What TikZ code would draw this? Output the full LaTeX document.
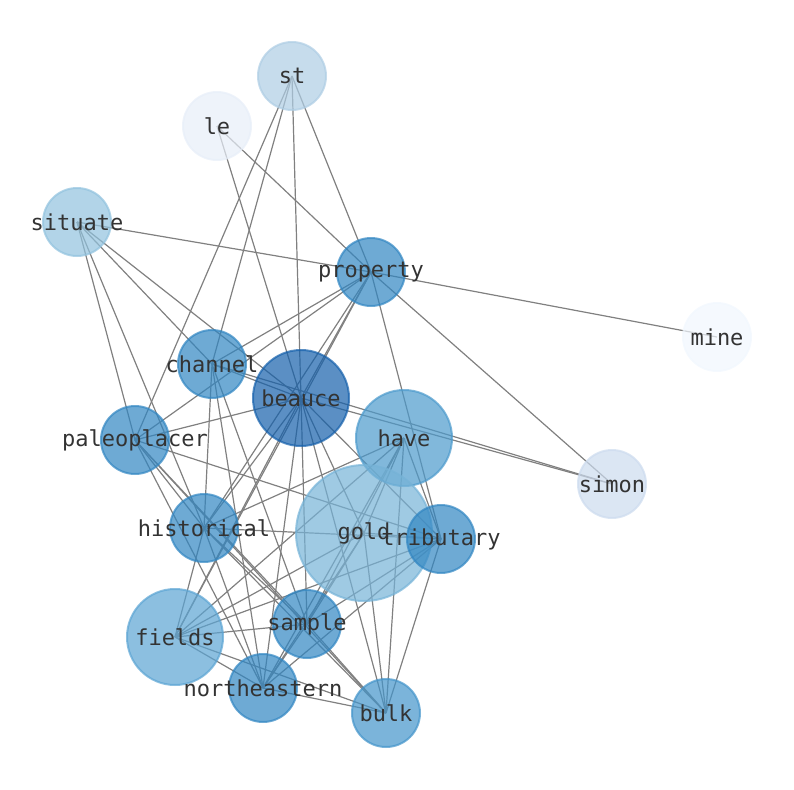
\documentclass[tikz,border=0pt]{standalone}
\usepackage{fontspec}
\newfontfamily\monofont{DejaVu Sans Mono}
\definecolor{edgegray}{RGB}{128,128,128}
\definecolor{labelgray}{RGB}{51,51,51}
\definecolor{cSt}{RGB}{174,205,228}
\definecolor{cLe}{RGB}{231,238,248}
\definecolor{cSituate}{RGB}{145,194,222}
\definecolor{cMid}{RGB}{49,134,194}
\definecolor{cMine}{RGB}{241,247,254}
\definecolor{cBeauce}{RGB}{21,96,171}
\definecolor{cHave}{RGB}{76,154,204}
\definecolor{cSimon}{RGB}{204,219,238}
\definecolor{cGold}{RGB}{118,179,215}
\definecolor{cFields}{RGB}{91,164,211}
\definecolor{cBulk}{RGB}{67,148,202}
\tikzset{
  vtx/.style={circle, fill=#1, draw=#1, fill opacity=0.7, draw opacity=0.7, line width=1.5pt, inner sep=0pt},
  small/.style={minimum size=51pt},
  mid/.style={minimum size=72pt},
  big/.style={minimum size=102pt},
  lbl/.style={text=labelgray, font=\monofont\fontsize{16.5}{18}\selectfont, inner sep=0pt},
  edge/.style={draw=edgegray, line width=0.9pt}
}
\begin{document}
\begin{tikzpicture}[x=0.75pt,y=-0.75pt]
\useasboundingbox (0,0) rectangle (794,790);
% coordinates
\coordinate (st) at (292,76);
\coordinate (le) at (217,126);
\coordinate (situate) at (77,222);
\coordinate (property) at (371,272);
\coordinate (mine) at (717,337);
\coordinate (channel) at (212,364);
\coordinate (beauce) at (301,398);
\coordinate (paleoplacer) at (135,440);
\coordinate (have) at (404,438);
\coordinate (simon) at (612,484);
\coordinate (historical) at (204,528);
\coordinate (gold) at (364,533);
\coordinate (tributary) at (441,539);
\coordinate (fields) at (175,637);
\coordinate (sample) at (307,624);
\coordinate (northeastern) at (263,688);
\coordinate (bulk) at (386,713);
% edges
\foreach \a/\b in {
 st/channel, st/paleoplacer, st/beauce, st/property,
 le/property, le/beauce,
 situate/property, situate/paleoplacer, situate/historical, situate/channel, situate/beauce,
 property/mine, property/simon, property/tributary, property/channel, property/paleoplacer, property/beauce, property/historical, property/fields,
 channel/beauce, channel/simon, channel/historical, channel/northeastern, channel/sample,
 beauce/simon, beauce/paleoplacer, beauce/historical, beauce/fields, beauce/sample, beauce/northeastern, beauce/bulk, beauce/gold, beauce/tributary,
 paleoplacer/historical, paleoplacer/sample, paleoplacer/bulk, paleoplacer/northeastern, paleoplacer/tributary,
 have/fields, have/gold, have/sample, have/northeastern, have/bulk, have/tributary, have/historical,
 gold/fields, gold/sample, gold/northeastern, gold/bulk,
 tributary/historical, tributary/fields, tributary/sample, tributary/northeastern, tributary/bulk, tributary/gold,
 historical/sample, historical/bulk, historical/northeastern, historical/fields,
 fields/sample, fields/northeastern, fields/bulk,
 sample/northeastern, sample/bulk,
 northeastern/bulk}
 {\draw[edge] (\a) -- (\b);}
% nodes
\node[vtx=cSt, small] (n-st) at (st) {};
\node[vtx=cLe, small] (n-le) at (le) {};
\node[vtx=cSituate, small] (n-situate) at (situate) {};
\node[vtx=cMid, small] (n-property) at (property) {};
\node[vtx=cMine, small] (n-mine) at (mine) {};
\node[vtx=cMid, small] (n-channel) at (channel) {};
\node[vtx=cBeauce, mid] (n-beauce) at (beauce) {};
\node[vtx=cMid, small] (n-paleoplacer) at (paleoplacer) {};
\node[vtx=cHave, mid] (n-have) at (have) {};
\node[vtx=cSimon, small] (n-simon) at (simon) {};
\node[vtx=cMid, small] (n-historical) at (historical) {};
\node[vtx=cGold, big] (n-gold) at (gold) {};
\node[vtx=cMid, small] (n-tributary) at (tributary) {};
\node[vtx=cFields, mid] (n-fields) at (fields) {};
\node[vtx=cMid, small] (n-sample) at (sample) {};
\node[vtx=cMid, small] (n-northeastern) at (northeastern) {};
\node[vtx=cBulk, small] (n-bulk) at (bulk) {};
% labels
\foreach \n in {st,le,situate,property,mine,channel,beauce,paleoplacer,have,simon,historical,gold,tributary,fields,sample,northeastern,bulk}
 {\node[lbl] (t-\n) at (\n) {\n};}
\end{tikzpicture}
\end{document}
